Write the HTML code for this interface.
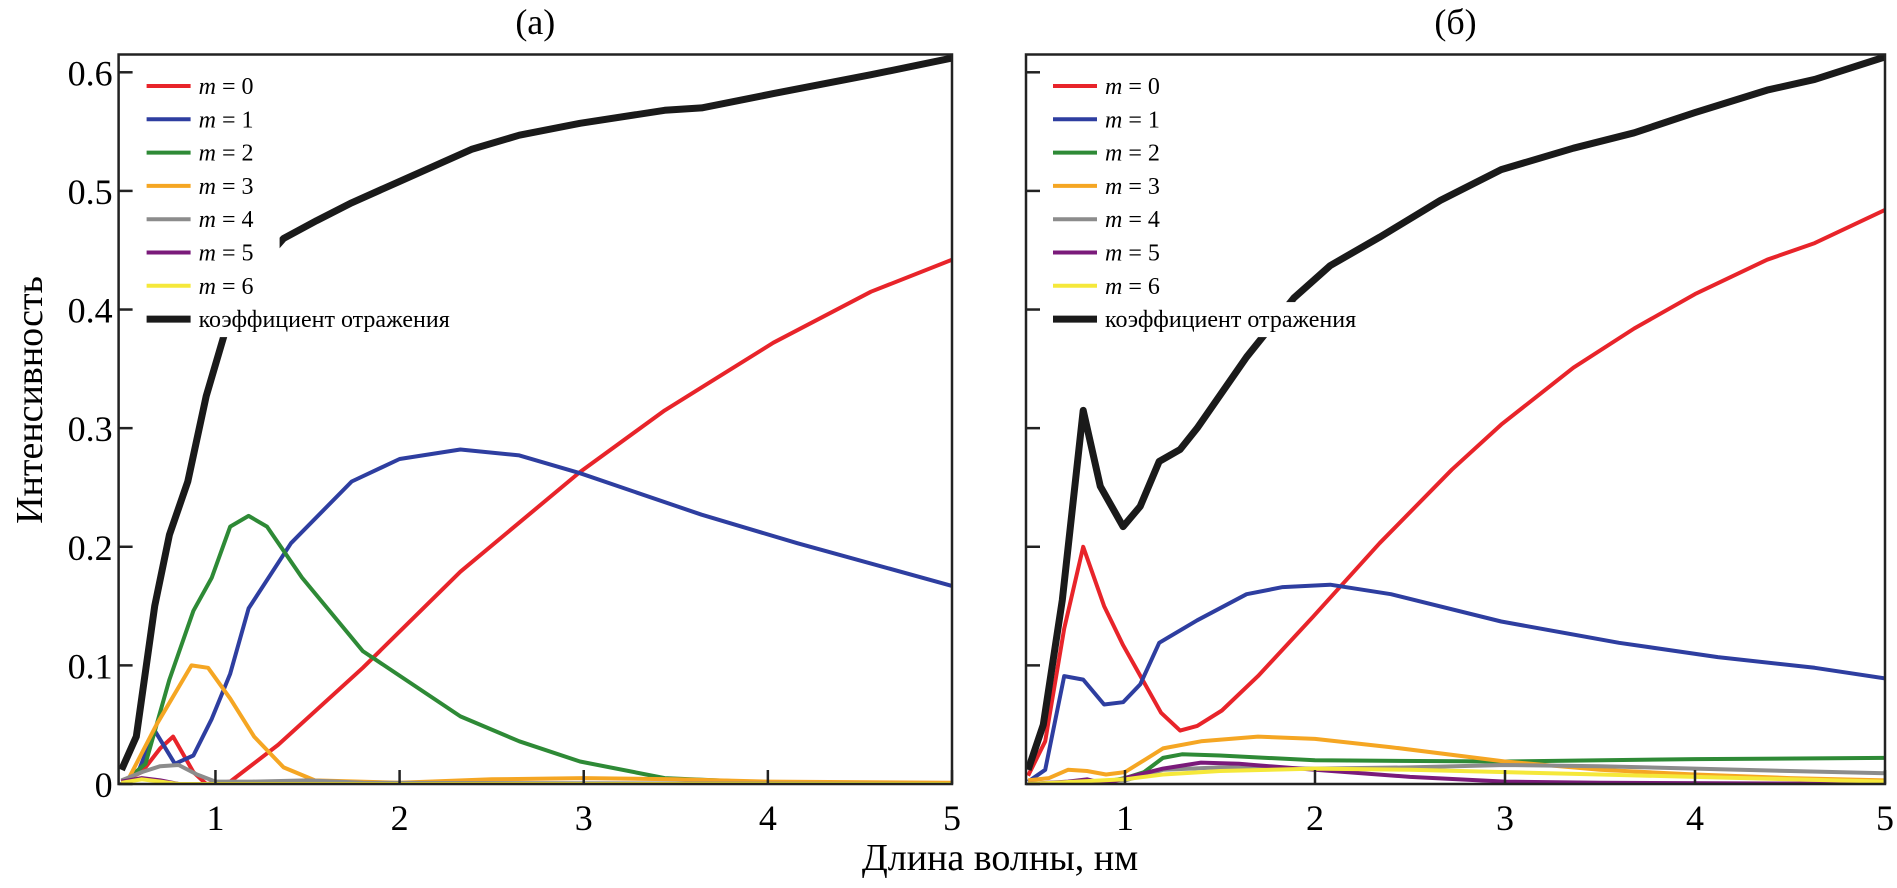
<!DOCTYPE html>
<html><head><meta charset="utf-8"><style>
html,body{margin:0;padding:0;background:#fff;}
svg{display:block;font-family:"Liberation Serif",serif;}
</style></head><body>
<svg id="chart" width="1897" height="888" viewBox="0 0 1897 888" xmlns="http://www.w3.org/2000/svg">
<text x="0" y="0" transform="translate(42,400) rotate(-90)" text-anchor="middle" font-size="38">Интенсивность</text>
<text x="1000" y="870" text-anchor="middle" font-size="38">Длина волны, нм</text>
</svg>
<script>
const yTicks = [0, 0.1, 0.2, 0.3, 0.4, 0.5, 0.6];
const yTickLabels = ["0", "0.1", "0.2", "0.3", "0.4", "0.5", "0.6"];
const xTicks = [1, 2, 3, 4, 5];
const seriesNames = ["m = 0","m = 1","m = 2","m = 3","m = 4","m = 5","m = 6","коэффициент отражения"];
const seriesColors = ["#e8242a","#2e3ea0","#2e8a36","#f5a623","#8c8c8c","#7a1a7a","#f5e83a","#1a1a1a"];

// Panel (a)
const aBlackX = [0.49,0.57,0.67,0.75,0.85,0.95,1.05,1.2,1.37,1.55,1.74,2.0,2.39,2.65,2.98,3.44,3.64,4.03,4.56,5.0];
const aBlackY = [0.012,0.04,0.15,0.21,0.255,0.327,0.38,0.43,0.46,0.475,0.49,0.508,0.535,0.547,0.557,0.568,0.57,0.582,0.598,0.612];
const aRedX = [0.49,0.6,0.7,0.77,0.88,0.95,1.08,1.34,1.8,2.33,2.98,3.44,4.03,4.56,5.0];
const aRedY = [0.002,0.01,0.03,0.04,0.01,0,0.002,0.033,0.098,0.179,0.263,0.315,0.372,0.415,0.442];
const aBlueX = [0.49,0.58,0.67,0.78,0.88,0.98,1.08,1.18,1.41,1.74,2.0,2.33,2.65,2.98,3.64,4.16,5.0];
const aBlueY = [0,0.01,0.045,0.017,0.024,0.055,0.093,0.148,0.203,0.255,0.274,0.282,0.277,0.262,0.227,0.203,0.167];
const aGreenX = [0.49,0.62,0.75,0.88,0.98,1.08,1.18,1.28,1.47,1.8,2.33,2.65,2.98,3.44,4.03,5.0];
const aGreenY = [0,0.017,0.088,0.146,0.174,0.217,0.226,0.217,0.174,0.112,0.057,0.036,0.019,0.005,0.001,0];
const aOrangeX = [0.49,0.52,0.68,0.87,0.96,1.08,1.21,1.37,1.54,2.0,2.5,3.0,3.5,4.0,5.0];
const aOrangeY = [0,0.002,0.05,0.1,0.098,0.072,0.04,0.014,0.003,0.001,0.004,0.005,0.004,0.002,0.001];
const aGrayX = [0.49,0.6,0.7,0.8,0.9,1.0,1.2,1.5,1.8,5.0];
const aGrayY = [0.003,0.01,0.015,0.016,0.008,0.002,0.002,0.003,0.001,0];
const aPurpleX = [0.49,0.6,0.7,0.8,5.0];
const aPurpleY = [0.002,0.005,0.003,0,0];
const aYellowX = [0.49,0.6,0.7,0.8,5.0];
const aYellowY = [0.001,0.004,0.002,0,0];

// Panel (б)
const bBlackX = [0.49,0.57,0.67,0.78,0.87,0.99,1.08,1.18,1.29,1.38,1.64,1.89,2.08,2.34,2.66,2.98,3.36,3.68,4.0,4.38,4.63,5.0];
const bBlackY = [0.012,0.05,0.155,0.315,0.251,0.217,0.234,0.272,0.282,0.3,0.36,0.41,0.437,0.461,0.492,0.518,0.536,0.549,0.566,0.585,0.594,0.613];
const bRedX = [0.49,0.58,0.68,0.78,0.89,0.99,1.19,1.29,1.38,1.51,1.7,1.99,2.34,2.72,2.98,3.36,3.68,4.0,4.38,4.63,5.0];
const bRedY = [0.007,0.036,0.131,0.2,0.15,0.117,0.06,0.045,0.049,0.062,0.091,0.141,0.203,0.265,0.303,0.351,0.384,0.413,0.442,0.456,0.484];
const bBlueX = [0.49,0.58,0.68,0.78,0.89,0.99,1.08,1.18,1.38,1.64,1.83,2.08,2.4,2.98,3.6,4.12,4.63,5.0];
const bBlueY = [0.002,0.012,0.091,0.088,0.067,0.069,0.084,0.119,0.138,0.16,0.166,0.168,0.16,0.137,0.119,0.107,0.098,0.089];
const bGreenX = [0.49,0.9,1.0,1.1,1.2,1.3,1.5,2.0,3.0,4.0,5.0];
const bGreenY = [0,0.002,0.005,0.01,0.022,0.025,0.024,0.02,0.019,0.021,0.022];
const bOrangeX = [0.49,0.6,0.7,0.8,0.9,1.0,1.1,1.2,1.4,1.7,2.0,2.4,3.0,3.5,4.0,4.5,5.0];
const bOrangeY = [0.003,0.005,0.012,0.011,0.008,0.01,0.02,0.03,0.036,0.04,0.038,0.031,0.019,0.012,0.008,0.005,0.003];
const bGrayX = [0.49,1.0,1.2,1.5,2.0,2.5,3.0,3.5,4.0,4.5,5.0];
const bGrayY = [0,0.003,0.012,0.014,0.013,0.014,0.016,0.015,0.013,0.011,0.009];
const bPurpleX = [0.49,0.7,0.8,0.9,1.0,1.2,1.4,1.6,2.0,2.5,3.0,3.5,5.0];
const bPurpleY = [0,0.002,0.004,0,0.005,0.013,0.018,0.017,0.012,0.006,0.002,0.001,0];
const bYellowX = [0.49,1.0,1.2,1.5,2.0,2.5,3.0,3.5,4.0,4.5,5.0];
const bYellowY = [0,0.004,0.008,0.011,0.013,0.012,0.01,0.008,0.006,0.004,0.002];

const NS = "http://www.w3.org/2000/svg";
const svg = document.getElementById('chart');
function mk(tag, attrs, parent){const e=document.createElementNS(NS,tag);for(const k in attrs)e.setAttribute(k,attrs[k]);(parent||svg).appendChild(e);return e;}

function panel(key, title, left, right, xMin, seriesX, seriesY){
  const top=54.5, bottom=784, yMax=0.615, xMax=5;
  const sx=v=>left+(v-xMin)/(xMax-xMin)*(right-left);
  const sy=v=>bottom-v/yMax*(bottom-top);
  const g=mk('g',{});
  
  
  const clipId='clip-'+key;
  const cp=mk('clipPath',{id:clipId},g);
  mk('rect',{x:left,y:top,width:right-left,height:bottom-top},cp);
  const t=mk('text',{x:(left+right)/2,y:34,'text-anchor':'middle','font-size':36},g);
  t.textContent=title;
  
  
  const lines=mk('g',{'clip-path':'url(#'+clipId+')'},g);
  for(let i=0;i<seriesX.length;i++){
    const d=seriesX[i].map((x,j)=>(j?'L':'M')+sx(x).toFixed(1)+' '+sy(seriesY[i][j]).toFixed(1)).join(' ');
    const p=mk('path',{d:d,fill:'none',stroke:seriesColors[i],'stroke-width':i===7?7:4,'stroke-linejoin':'round'},lines);
    
    
  }
  // legend
  const lg=mk('g',{},g);
  
  
  const lx=left+(key==='a'?28:27);
  for(let i=0;i<seriesNames.length;i++){
    const yy=86+i*33.3;
    const w=i<7?75:270;
    mk('rect',{x:lx-4,y:yy-17,width:52+w+10,height:35,fill:'#fff'},lg);
    mk('line',{x1:lx,x2:lx+44,y1:yy,y2:yy,stroke:seriesColors[i],'stroke-width':i===7?7:4},lg);
    const tx=mk('text',{x:lx+52,y:yy+8,'font-size':24},lg);
    if(i<7){
      const it=mk('tspan',{'font-style':'italic'},tx); it.textContent='m';
      const r=mk('tspan',{},tx); r.textContent=' = '+i;
    } else tx.textContent=seriesNames[i];
    
    
  }
  // frame
  mk('rect',{x:left,y:top,width:right-left,height:bottom-top,fill:'none',stroke:'#222','stroke-width':2.5},g);
  yTicks.forEach((v,i)=>{
    mk('line',{x1:left,x2:left+14,y1:sy(v),y2:sy(v),stroke:'#222','stroke-width':2.5},g);
    if(key==='a'){
      const tl=mk('text',{x:left-6,y:sy(v)+13,'text-anchor':'end','font-size':36},g);
      tl.textContent=yTickLabels[i];
      
      
    }
  });
  xTicks.forEach(v=>{
    mk('line',{x1:sx(v),x2:sx(v),y1:bottom,y2:bottom-14,stroke:'#222','stroke-width':2.5},g);
    const tl=mk('text',{x:sx(v),y:bottom+46,'text-anchor':'middle','font-size':36},g);
    tl.textContent=String(v);
    
    
  });
}
panel('a','(а)',118.6,952,0.474,
  [aRedX,aBlueX,aGreenX,aOrangeX,aGrayX,aPurpleX,aYellowX,aBlackX],
  [aRedY,aBlueY,aGreenY,aOrangeY,aGrayY,aPurpleY,aYellowY,aBlackY]);
panel('b','(б)',1026,1885,0.479,
  [bRedX,bBlueX,bGreenX,bOrangeX,bGrayX,bPurpleX,bYellowX,bBlackX],
  [bRedY,bBlueY,bGreenY,bOrangeY,bGrayY,bPurpleY,bYellowY,bBlackY]);
</script>
</body></html>
